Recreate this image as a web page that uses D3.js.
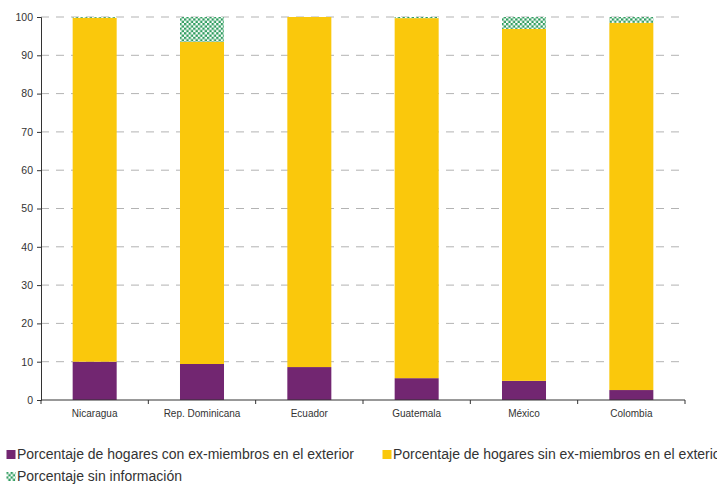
<!DOCTYPE html>
<html>
<head>
<meta charset="utf-8">
<script src="https://cdn.jsdelivr.net/npm/d3@7"></script>
<style>
  body { margin: 0; background: #fff; }
  svg { display: block; font-family: "Liberation Sans", Arial, sans-serif; }
</style>
</head>
<body>
<script>
  const countries = ['Nicaragua', 'Rep. Dominicana', 'Ecuador', 'Guatemala', 'México', 'Colombia'];
  const withMembers = [10.0, 9.4, 8.6, 5.7, 5.0, 2.6];
  const withoutMembers = [89.8, 84.1, 91.4, 94.0, 91.9, 95.9];
  const noInfo = [0.2, 6.5, 0.0, 0.3, 3.1, 1.5];
  const yTicks = [0, 10, 20, 30, 40, 50, 60, 70, 80, 90, 100];

  const seriesNames = [
    'Porcentaje de hogares con ex-miembros en el exterior',
    'Porcentaje de hogares sin ex-miembros en el exterior',
    'Porcentaje sin información'
  ];
  const keys = ['con', 'sin', 'info'];

  const width = 717;
  const height = 485;
  const margin = {top: 17, right: 32, bottom: 85, left: 41};

  const table = countries.map((c, i) => ({
    country: c, con: withMembers[i], sin: withoutMembers[i], info: noInfo[i]
  }));

  const svg = d3.select('body')
    .append('svg')
    .attr('width', width)
    .attr('height', height);

  const defs = svg.append('defs');
  const pat = defs.append('pattern')
    .attr('id', 'checker')
    .attr('patternUnits', 'userSpaceOnUse')
    .attr('width', 4.6)
    .attr('height', 4.6);
  pat.append('rect').attr('width', 4.6).attr('height', 4.6).attr('fill', '#fff');
  pat.append('rect').attr('width', 2.3).attr('height', 2.3).attr('fill', '#2e9c5e');
  pat.append('rect').attr('x', 2.3).attr('y', 2.3).attr('width', 2.3).attr('height', 2.3).attr('fill', '#2e9c5e');

  const fills = {con: '#722671', sin: '#fac80c', info: 'url(#checker)'};

  const x = d3.scaleBand()
    .domain(countries)
    .range([margin.left, width - margin.right])
    .paddingInner(0.59)
    .paddingOuter(0.295);

  const y = d3.scaleLinear()
    .domain([0, 100])
    .range([height - margin.bottom, margin.top]);

  // grid
  svg.append('g')
    .selectAll('line')
    .data(yTicks.filter(t => t > 0))
    .enter()
    .append('line')
    .attr('x1', margin.left)
    .attr('x2', width - margin.right)
    .attr('y1', d => y(d))
    .attr('y2', d => y(d))
    .attr('stroke', '#b3b3b3')
    .attr('stroke-width', 1)
    .attr('stroke-dasharray', '8,7');

  const stack = d3.stack().keys(keys);
  const series = stack(table);

  svg.append('g')
    .selectAll('g')
    .data(series)
    .enter()
    .append('g')
    .attr('fill', d => fills[d.key])
    .selectAll('rect')
    .data(d => d)
    .enter()
    .append('rect')
    .attr('x', d => x(d.data.country))
    .attr('width', x.bandwidth())
    .attr('y', d => y(d[1]))
    .attr('height', d => y(d[0]) - y(d[1]));

  // y axis
  const yAxis = svg.append('g')
    .attr('transform', `translate(${margin.left},0)`)
    .call(d3.axisLeft(y).tickValues(yTicks).tickSize(4).tickPadding(4));
  yAxis.select('.domain').attr('stroke', '#333');
  yAxis.selectAll('.tick line').attr('stroke', '#333');
  yAxis.selectAll('text').attr('fill', '#333').style('font-size', '10.5px');

  // x axis with boundary ticks
  const xAxisG = svg.append('g')
    .attr('transform', `translate(0,${y(0)})`);
  xAxisG.append('line')
    .attr('x1', margin.left)
    .attr('x2', width - margin.right)
    .attr('stroke', '#333');
  const step = x.step();
  const bounds = d3.range(countries.length + 1).map(i => margin.left + i * step);
  xAxisG.selectAll('line.tk')
    .data(bounds)
    .enter()
    .append('line')
    .attr('class', 'tk')
    .attr('x1', d => d)
    .attr('x2', d => d)
    .attr('y1', 0)
    .attr('y2', 4)
    .attr('stroke', '#333');
  xAxisG.selectAll('text')
    .data(countries)
    .enter()
    .append('text')
    .attr('x', d => x(d) + x.bandwidth() / 2)
    .attr('y', 17)
    .attr('text-anchor', 'middle')
    .attr('fill', '#333')
    .style('font-size', '10px')
    .text(d => d);

  // legend
  const legendPos = [[6, 459], [382, 459], [6, 481]];
  const legend = svg.append('g')
    .selectAll('g')
    .data(keys)
    .enter()
    .append('g')
    .attr('transform', (d, i) => `translate(${legendPos[i][0]},${legendPos[i][1]})`);
  legend.append('rect')
    .attr('x', 0.5)
    .attr('y', -9)
    .attr('width', 9)
    .attr('height', 9)
    .attr('fill', d => fills[d]);
  legend.append('text')
    .attr('x', 11)
    .attr('y', 0)
    .attr('fill', '#333')
    .style('font-size', '14px')
    .text((d, i) => seriesNames[i]);
</script>
</body>
</html>
